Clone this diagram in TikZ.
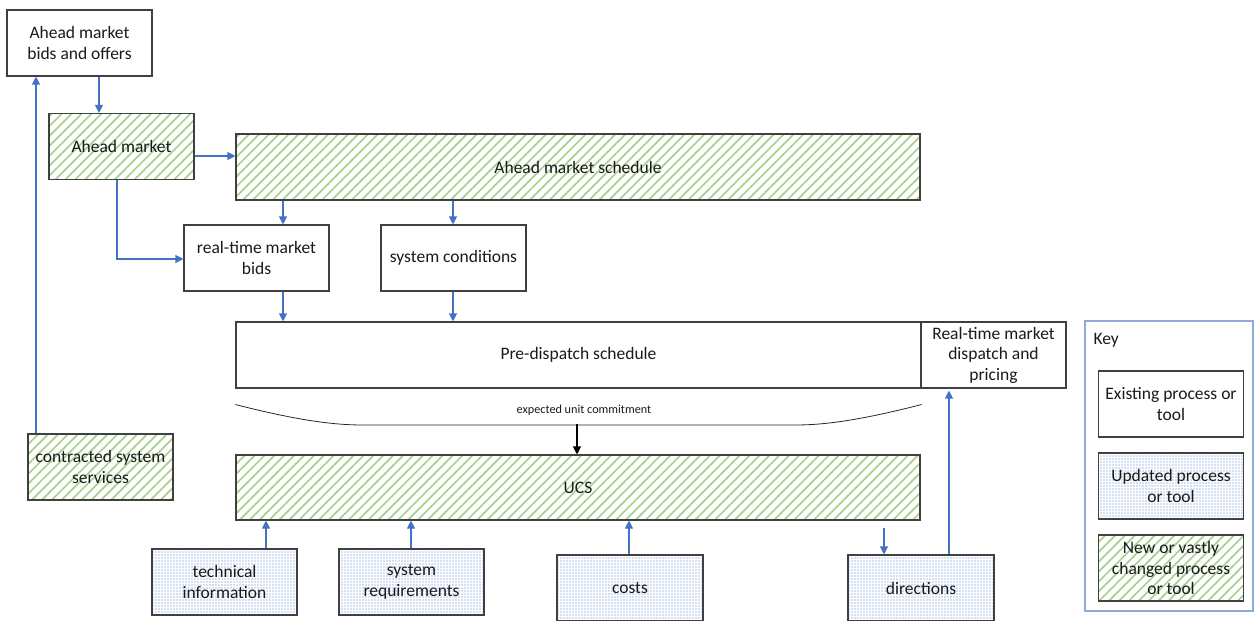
\documentclass[tikz,border=0pt]{standalone}
\usepackage{fontspec}
\setmainfont{Carlito}
\usetikzlibrary{arrows.meta,patterns,patterns.meta,calc}
\definecolor{arrblue}{HTML}{4472C4}
\definecolor{hatchgreen}{HTML}{A9D18E}
\definecolor{dotblue}{HTML}{4F7BD0}
\definecolor{keyblue}{HTML}{8EA9DB}
\definecolor{boxline}{HTML}{404040}
\definecolor{txt}{HTML}{1A1A1A}
\tikzset{
  base/.style={draw=boxline, line width=1.1pt, minimum width=145pt, minimum height=66pt,
    align=center, inner sep=2pt, text=txt, font=\fontsize{17.5}{20.5}\selectfont},
  existing/.style={base, fill=white},
  newbox/.style={base, preaction={fill=white}, preaction={pattern={Lines[angle=45,distance=7pt,line width=1.7pt]}, pattern color=hatchgreen}},
  updbox/.style={base, preaction={fill=white}, preaction={pattern={Dots[distance=3pt,radius=0.65pt]}, pattern color=dotblue}},
  arr/.style={draw=arrblue, line width=1.1pt, -{Triangle[length=8pt,width=8pt]}},
  barr/.style={draw=black, line width=1.1pt, -{Triangle[length=8pt,width=8pt]}},
}
\begin{document}
\begin{tikzpicture}[x=1pt,y=-1pt]
\useasboundingbox (0,0) rectangle (1256,621);
% nodes
\node[existing] (bids) at (79.5,43) {Ahead market\\bids and offers};
\node[newbox] (am) at (121.5,146.5) {Ahead market};
\node[newbox, minimum width=684pt] (ams) at (578,167) {Ahead market schedule};
\node[existing] (rtb) at (256.5,258) {real-time market\\bids};
\node[existing] (sc) at (453.5,258) {system conditions};
\node[existing, minimum width=685pt] (pds) at (578.5,355) {Pre-dispatch schedule};
\node[existing] (rtm) at (993.5,355) {Real-time market\\dispatch and\\pricing};
\node[newbox, minimum width=684pt, minimum height=65pt] (ucs) at (578,487.5) {UCS};
\node[newbox] (css) at (100.5,467) {contracted system\\services};
\node[updbox] (ti) at (224.5,582) {technical\\information};
\node[updbox] (sr) at (411.5,582) {system\\requirements};
\node[updbox, minimum width=146pt] (costs) at (630,588) {costs};
\node[updbox, minimum width=146pt] (dir) at (921,588) {directions};
% key
\node[draw=keyblue, line width=1.6pt, minimum width=168pt, minimum height=290pt] (key) at (1169,466) {};
\node[anchor=west, text=txt, font=\fontsize{17.5}{20.5}\selectfont] (keyt) at (1090,340) {Key};
\node[existing] (k1) at (1171,404) {Existing process or\\tool};
\node[updbox] (k2) at (1171,486) {Updated process\\or tool};
\node[newbox] (k3) at (1171,568) {New or vastly\\changed process\\or tool};
% brace line
\coordinate (bl) at ($(pds.south west)+(0,16)$);
\coordinate (br) at ($(pds.south east)+(0,16)$);
\coordinate (bm) at ($(ucs.north)+(-1,-30)$);
\draw[line width=0.8pt, black!85] (bl) .. controls (300,421) and (335,425) .. (363,425) -- (795,425) .. controls (823,425) and (857,421) .. (br);
\node[font=\fontsize{12.2}{14}\selectfont, text=txt] (euc) at (584,410) {expected unit commitment};
\draw[barr] (bm) -- (ucs.north -| bm);
% arrows
\draw[arr] (bids.south -| 99,0) -- (am.north -| 99,0);
\draw[arr] (css.north -| 36,0) -- (bids.south -| 36,0);
\draw[arr] (am.east |- 0,156) -- (ams.west |- 0,156);
\draw[arr] (am.south -| 117,0) |- (rtb.west |- 0,259);
\draw[arr] (ams.south -| 283,0) -- (rtb.north -| 283,0);
\draw[arr] (ams.south -| 453,0) -- (sc.north -| 453,0);
\draw[arr] (rtb.south -| 283,0) -- (pds.north -| 283,0);
\draw[arr] (sc.south -| 453,0) -- (pds.north -| 453,0);
\draw[arr] (ti.north -| 266,0) -- (ucs.south -| 266,0);
\draw[arr] (sr.north -| 411,0) -- (ucs.south -| 411,0);
\draw[arr] (costs.north -| 629,0) -- (ucs.south -| 629,0);
\draw[arr] ($(ucs.south -| 884,0)+(0,7)$) -- (dir.north -| 884,0);
\draw[arr] (dir.north -| 949,0) -- ($(rtm.south -| 949,0)+(0,2)$);
\end{tikzpicture}
\end{document}
